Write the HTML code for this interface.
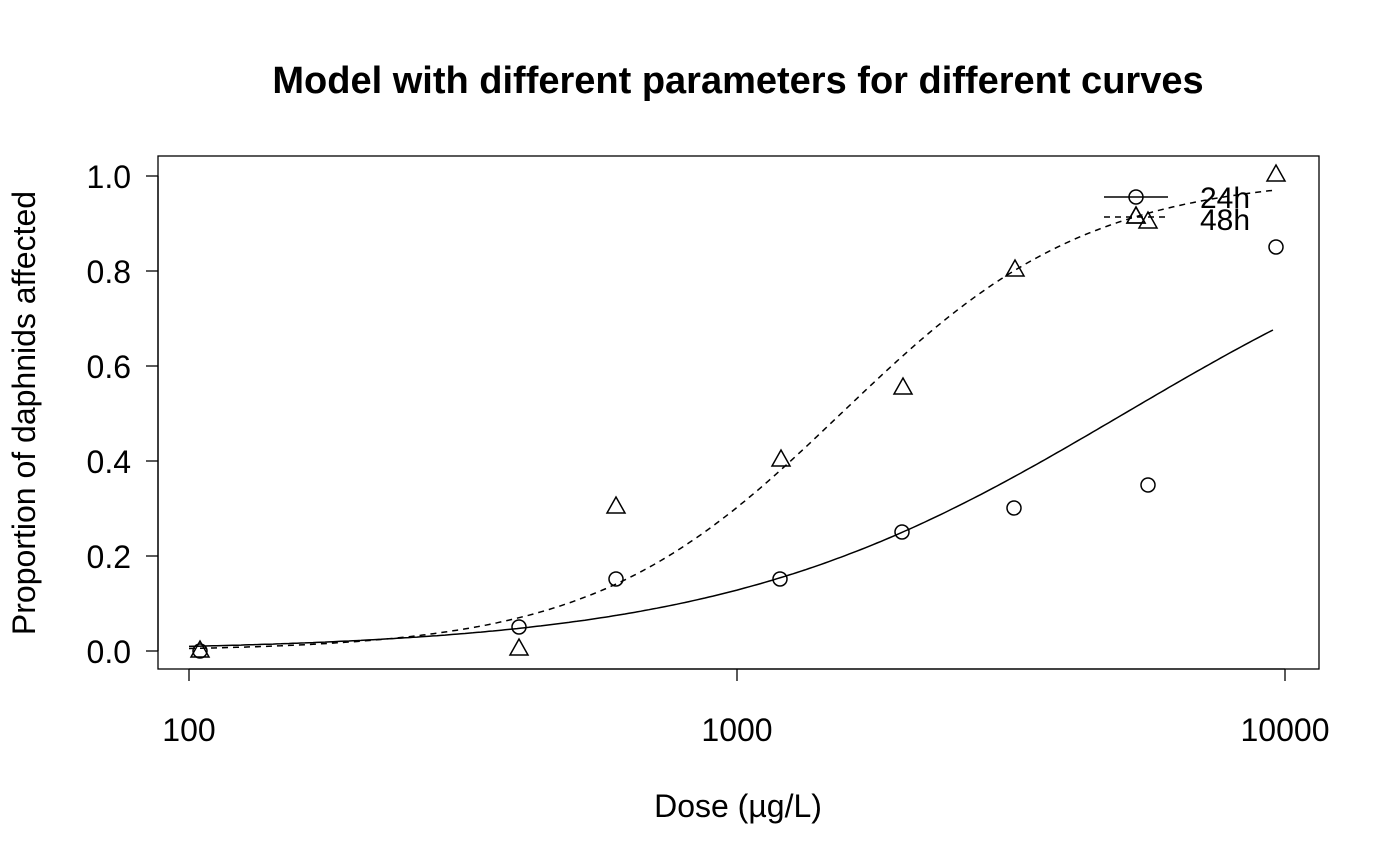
<!DOCTYPE html>
<html><head><meta charset="utf-8"><style>
html,body{margin:0;padding:0;background:#fff}
svg{display:block;font-family:"Liberation Sans",Arial,sans-serif}
</style></head><body>
<svg id="s" width="1400" height="866" viewBox="0 0 1400 866" xmlns="http://www.w3.org/2000/svg">
<rect width="1400" height="866" fill="#fff"/>
<text x="738" y="93" font-size="38" font-weight="bold" text-anchor="middle">Model with different parameters for different curves</text>
<rect x="158" y="156" width="1161" height="513" fill="none" stroke="#000" stroke-width="1.3"/>
<g stroke="#000" stroke-width="1.3">
<line x1="189" y1="669" x2="1285" y2="669"/>
<line x1="189" y1="669" x2="189" y2="681"/>
<line x1="737" y1="669" x2="737" y2="681"/>
<line x1="1285" y1="669" x2="1285" y2="681"/>
<line x1="158" y1="176" x2="158" y2="651"/>
<line x1="146" y1="651" x2="158" y2="651"/>
<line x1="146" y1="556" x2="158" y2="556"/>
<line x1="146" y1="461" x2="158" y2="461"/>
<line x1="146" y1="366" x2="158" y2="366"/>
<line x1="146" y1="271" x2="158" y2="271"/>
<line x1="146" y1="176" x2="158" y2="176"/>
</g>
<g font-size="32" text-anchor="middle">
<text x="189" y="741">100</text>
<text x="737" y="741">1000</text>
<text x="1285" y="741">10000</text>
<text x="738" y="817">Dose (µg/L)</text>
</g>
<g font-size="32" text-anchor="end">
<text x="131" y="663">0.0</text>
<text x="131" y="568">0.2</text>
<text x="131" y="473">0.4</text>
<text x="131" y="378">0.6</text>
<text x="131" y="283">0.8</text>
<text x="131" y="188">1.0</text>
</g>
<text transform="translate(35,413) rotate(-90)" font-size="32" text-anchor="middle">Proportion of daphnids affected</text>
<path id="c24" fill="none" stroke="#000" stroke-width="1.5"/>
<path id="c48" fill="none" stroke="#000" stroke-width="1.5" stroke-dasharray="6,5"/>
<g fill="none" stroke="#000" stroke-width="1.5">
<circle cx="200" cy="651" r="7"/><circle cx="519" cy="627" r="7"/><circle cx="616" cy="579" r="7"/><circle cx="780" cy="579" r="7"/><circle cx="902" cy="532" r="7"/><circle cx="1014" cy="508" r="7"/><circle cx="1148" cy="485" r="7"/><circle cx="1276" cy="247" r="7"/>
<path d="M200,641 L209,657 L191,657 Z"/>
<path d="M519,639 L528,655 L510,655 Z"/>
<path d="M616,497 L625,513 L607,513 Z"/>
<path d="M781,450 L790,466 L772,466 Z"/>
<path d="M903,378 L912,394 L894,394 Z"/>
<path d="M1015,260 L1024,276 L1006,276 Z"/>
<path d="M1136,207 L1145,223 L1127,223 Z"/>
<path d="M1148,212 L1157,228 L1139,228 Z"/>
<path d="M1276,165 L1285,181 L1267,181 Z"/>
</g>
<g stroke="#000" stroke-width="1.5" fill="none">
<line x1="1104" y1="197" x2="1168" y2="197"/>
<line x1="1104" y1="217" x2="1168" y2="217" stroke-dasharray="6,5"/>
<circle cx="1136" cy="197" r="7"/>
<path d="M1136,207 L1145,223 L1127,223 Z"/>
</g>
<text x="1200" y="208" font-size="30">24h</text>
<text x="1200" y="230" font-size="30">48h</text>
<script>
function Y(p){return 651-p*475;}
function curve(b,e){var d="";for(var px=189;px<=1276;px+=4){var l=(px-189)/548+2;var p=1/(1+Math.exp(-b*(l-e)));d+=(d?"L":"M")+px+","+Y(p).toFixed(1);}return d;}
document.getElementById("c24").setAttribute("d",curve(2.71,3.707));
document.getElementById("c48").setAttribute("d",curve(4.4,3.19));
</script>
</svg>
</body></html>
